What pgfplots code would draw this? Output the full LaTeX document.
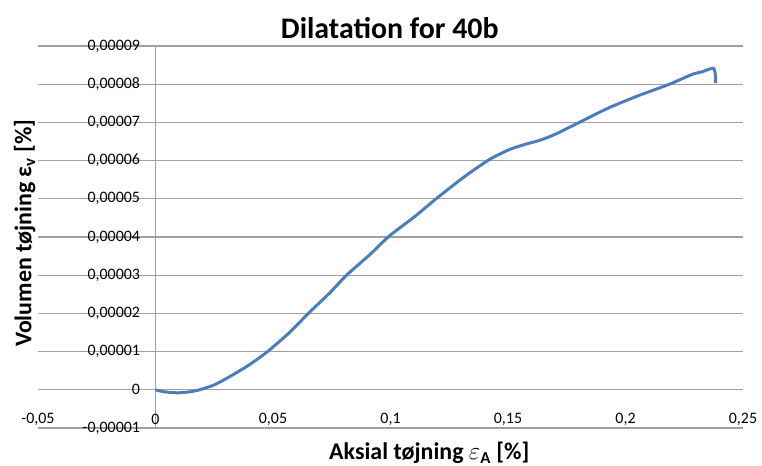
\documentclass[border=0pt]{standalone}
\usepackage{fontspec}
\setmainfont{Carlito}
\usepackage{pgfplots}
\pgfplotsset{compat=1.18}
\definecolor{exblue}{RGB}{74,126,187}
\definecolor{gridgray}{RGB}{160,160,160}
\begin{document}
\begin{tikzpicture}
\useasboundingbox (-38bp,-38bp) rectangle (724bp,428bp);
\begin{axis}[
  scale only axis,
  width=705bp, height=382bp,
  xmin=-0.05, xmax=0.25,
  ymin=-0.00001, ymax=0.00009,
  axis lines=middle,
  hide obscured x ticks=false,
  hide obscured y ticks=false,
  axis line style={-, gridgray, line width=1.2pt},
  major tick length=0pt,
  xtick={-0.05,0,0.05,0.1,0.15,0.2,0.25},
  xticklabels={{-0,05},{0},{0,05},{0,1},{0,15},{0,2},{0,25}},
  ytick={-0.00001,0,0.00001,0.00002,0.00003,0.00004,0.00005,0.00006,0.00007,0.00008,0.00009},
  yticklabels={{-0,00001},{0},{0,00001},{0,00002},{0,00003},{0,00004},{0,00005},{0,00006},{0,00007},{0,00008},{0,00009}},
  scaled y ticks=false, scaled x ticks=false,
  ymajorgrids,
  major grid style={gridgray, line width=1.2pt},
  xticklabel style={font=\fontsize{16}{19}\selectfont, anchor=center, yshift=-30bp},
  yticklabel style={font=\fontsize{16}{19}\selectfont, anchor=east, xshift=-12bp},
  title={Dilatation for 40b},
  title style={font=\bfseries\fontsize{30}{34}\selectfont, at={(axis description cs:0.499,1.03)}, anchor=center},
  xlabel={Aksial tøjning $\varepsilon$\textsubscript{A} [\%]},
  xlabel style={font=\bfseries\fontsize{24}{28}\selectfont, at={(axis description cs:0.555,-0.065)}, anchor=center},
  ylabel={Volumen tøjning ε\textsubscript{v} [\%]},
  ylabel style={font=\bfseries\fontsize{24}{28}\selectfont, at={(axis description cs:-0.019,0.51)}, anchor=center, rotate=90},
  clip=false,
]
\addplot[exblue, line width=3pt, smooth, tension=0.4] coordinates {
(0,0)
(0.00383,-0.00000053)
(0.00936,-0.00000079)
(0.01447,-0.00000053)
(0.01872,0)
(0.02511,0.00000132)
(0.03149,0.00000342)
(0.04000,0.00000658)
(0.04766,0.0000100)
(0.05702,0.0000150)
(0.06553,0.0000203)
(0.07404,0.0000253)
(0.08128,0.0000300)
(0.09106,0.0000353)
(0.09957,0.0000403)
(0.11021,0.0000453)
(0.12000,0.0000503)
(0.13149,0.0000558)
(0.14213,0.0000603)
(0.15064,0.0000629)
(0.15702,0.0000642)
(0.16340,0.0000653)
(0.16979,0.0000668)
(0.18128,0.0000703)
(0.19319,0.0000739)
(0.20596,0.0000771)
(0.21872,0.0000800)
(0.22851,0.0000826)
(0.23234,0.0000832)
(0.23702,0.0000842)
(0.23787,0.0000837)
(0.23830,0.0000821)
(0.23830,0.0000803)
};
\end{axis}
\end{tikzpicture}
\end{document}
